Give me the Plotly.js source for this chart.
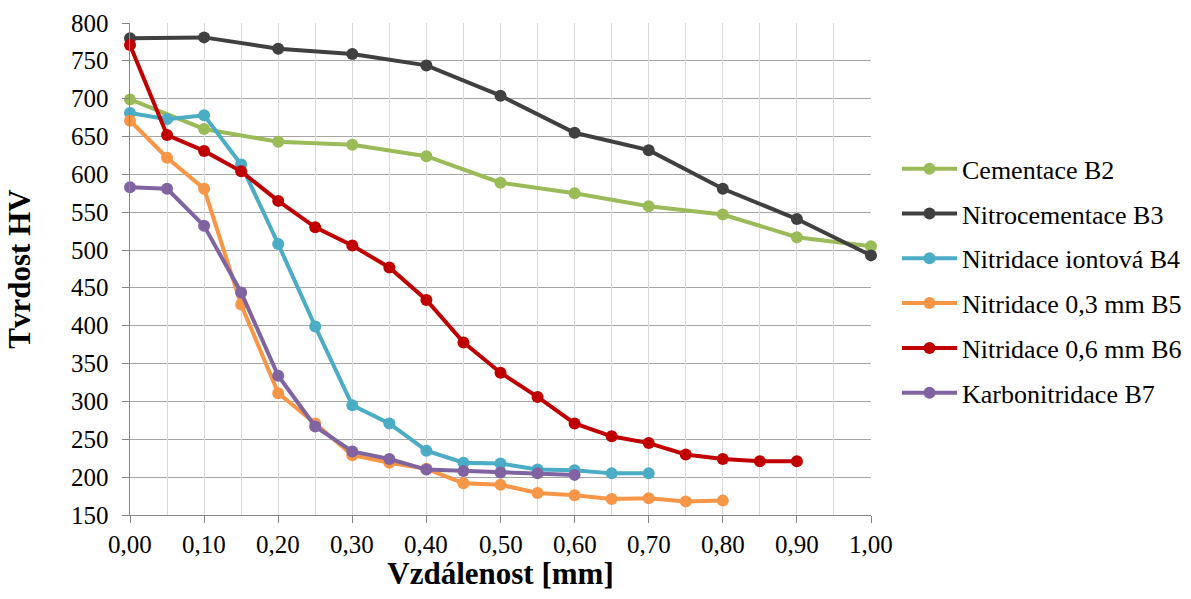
<!DOCTYPE html>
<html>
<head>
<meta charset="utf-8">
<script src="https://cdn.plot.ly/plotly-3.0.1.min.js"></script>
<style>html,body{margin:0;padding:0;background:#fff;}#chart{width:1191px;height:599px;}</style>
</head>
<body>
<div id="chart"></div>
<script>
const seriesNames = ["Cementace B2","Nitrocementace B3","Nitridace iontová B4","Nitridace 0,3 mm B5","Nitridace 0,6 mm B6","Karbonitridace B7"];
const colors = ["#9BBB59","#404040","#4BACC6","#F79646","#C00000","#8064A2"];

const xB2 = [0,0.1,0.2,0.3,0.4,0.5,0.6,0.7,0.8,0.9,1.0];
const yB2 = [699,660,643,639,624,589,575,558,547,517,505];

const xB3 = [0,0.1,0.2,0.3,0.4,0.5,0.6,0.7,0.8,0.9,1.0];
const yB3 = [780,781,766,759,744,704,655,632,581,541,493];

const xB4 = [0,0.05,0.1,0.15,0.2,0.25,0.3,0.35,0.4,0.45,0.5,0.55,0.6,0.65,0.7];
const yB4 = [681,673,678,613,508,399,295,271,235,219,218,210,209,205,205];

const xB5 = [0,0.05,0.1,0.15,0.2,0.25,0.3,0.35,0.4,0.45,0.5,0.55,0.6,0.65,0.7,0.75,0.8];
const yB5 = [671,622,581,428,311,271,229,219,211,192,190,179,176,171,172,168,169];

const xB6 = [0,0.05,0.1,0.15,0.2,0.25,0.3,0.35,0.4,0.45,0.5,0.55,0.6,0.65,0.7,0.75,0.8,0.85,0.9];
const yB6 = [771,652,631,604,565,530,506,477,434,378,338,306,271,254,245,230,224,221,221];

const xB7 = [0,0.05,0.1,0.15,0.2,0.25,0.3,0.35,0.4,0.45,0.5,0.55,0.6];
const yB7 = [583,581,532,444,334,267,234,224,210,208,206,205,203];

const xTickVals = [0,0.1,0.2,0.3,0.4,0.5,0.6,0.7,0.8,0.9,1.0];
const xTickText = ["0,00","0,10","0,20","0,30","0,40","0,50","0,60","0,70","0,80","0,90","1,00"];
const yTickVals = [150,200,250,300,350,400,450,500,550,600,650,700,750,800];
const yTickText = ["150","200","250","300","350","400","450","500","550","600","650","700","750","800"];

const xs = [xB2,xB3,xB4,xB5,xB6,xB7];
const ys = [yB2,yB3,yB4,yB5,yB6,yB7];

const font = "Times New Roman, Liberation Serif, serif";

const traces = seriesNames.map((n,i)=>({
  x: xs[i], y: ys[i], name: n, type: "scatter", mode: "lines+markers",
  legendgroup: "g"+i,
  line: {color: colors[i], width: 4},
  marker: {color: colors[i], size: 12},
  cliponaxis: false
}));

const W = 1191, L = 130, R = 5;
const plotW = W - L - R;
const dom = [0, (871 - L) / plotW];
const tickFont = {family: "Times New Roman", size: 25, color: "#000"};

const annotations = [];
xTickVals.forEach((v,i)=>annotations.push({x: v, xref: "x", y: 0, yref: "paper",
  text: xTickText[i], showarrow: false, xanchor: "center", yanchor: "top", yshift: -14, font: tickFont}));
yTickVals.forEach((v,i)=>annotations.push({x: 0, xref: "paper", y: v, yref: "y",
  text: yTickText[i], showarrow: false, xanchor: "right", yanchor: "middle", xshift: -19, font: tickFont}));

const layout = {
  width: 1191, height: 599,
  margin: {l: L, r: R, t: 23, b: 84, autoexpand: false},
  paper_bgcolor: "#fff", plot_bgcolor: "#fff",
  font: {family: font, color: "#000", size: 25},
  showlegend: true,
  legend: {x: (897 - L) / plotW, y: 0.476, xanchor: "left", yanchor: "middle",
    font: {family: font, size: 26, color: "#000"}, tracegroupgap: 8, itemwidth: 55,
    bgcolor: "rgba(0,0,0,0)"},
  annotations: annotations,
  xaxis2: {
    domain: dom, range: [0, 1], dtick: 0.05, tick0: 0,
    overlaying: "x", side: "bottom", anchor: "y",
    showgrid: true, gridcolor: "#d9d9d9", gridwidth: 1,
    showticklabels: false, ticks: "", zeroline: false, showline: false, layer: "below traces"
  },
  xaxis: {
    domain: dom,
    range: [0, 1], tickvals: xTickVals, showticklabels: false,
    showgrid: true, gridcolor: "#a6a6a6", gridwidth: 1,
    showline: true, linecolor: "#868686", linewidth: 1,
    ticks: "outside", ticklen: 7, tickcolor: "#868686",
    zeroline: false,
    title: {text: "<b>Vzdálenost [mm]</b>", font: {family: font, size: 31, color: "#000"}, standoff: 40}
  },
  yaxis: {
    range: [150, 800], tickvals: yTickVals, showticklabels: false,
    showgrid: true, gridcolor: "#a6a6a6", gridwidth: 1,
    showline: true, linecolor: "#868686", linewidth: 1,
    ticks: "outside", ticklen: 7, tickcolor: "#868686",
    zeroline: false,
    title: {text: "<b>Tvrdost HV</b>", font: {family: font, size: 31, color: "#000"}, standoff: 82}
  }
};

const gridTrace = {x: [0, 1], y: [150, 150], xaxis: "x2", yaxis: "y", mode: "none", type: "scatter",
  showlegend: false, hoverinfo: "skip"};

Plotly.newPlot("chart", [gridTrace].concat(traces), layout, {displayModeBar: false, staticPlot: true});
</script>
</body>
</html>
